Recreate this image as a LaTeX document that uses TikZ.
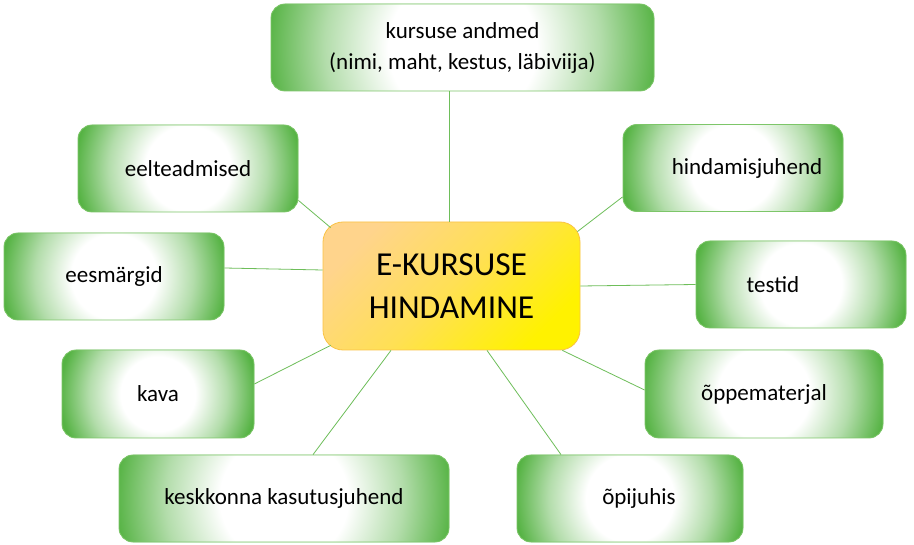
\documentclass[tikz,border=0pt]{standalone}
\usepackage{fontspec}
\setmainfont{Carlito}
\usetikzlibrary{calc}
\definecolor{gfill}{RGB}{86,179,68}
\definecolor{gborder}{RGB}{125,198,105}
\definecolor{gline}{RGB}{110,190,90}
\definecolor{clight}{RGB}{255,212,140}
\definecolor{cyellow}{RGB}{255,242,0}
\definecolor{cborder}{RGB}{250,195,70}
\colorlet{gmid}{gfill!45!white}
\pgfdeclareradialshading{gshade}{\pgfpointorigin}{color(0bp)=(white); color(5.4bp)=(white); color(10bp)=(gmid); color(14.2bp)=(gfill); color(50bp)=(gfill)}
\tikzset{
  gbox/.style={draw=gborder, line width=0.8pt, rounded corners=14pt, fill=gfill,
    path picture={\shade[shading=gshade] let \p1=(path picture bounding box.east), \p2=(path picture bounding box.west), \n1={0.9*(\x1-\x2)} in ($(path picture bounding box.center)+(-\n1,-\n1)$) rectangle ($(path picture bounding box.center)+(\n1,\n1)$);},
    minimum height=87pt, inner sep=0pt, align=center, font=\fontsize{23}{31}\selectfont},
  cbox/.style={draw=cborder, line width=0.8pt, rounded corners=20pt, top color=clight, bottom color=cyellow,
    middle color=clight!60!cyellow, shading angle=45, minimum width=257pt, minimum height=128pt,
    inner sep=0pt, align=center, font=\fontsize{33.5}{43}\selectfont},
  conn/.style={draw=gline, line width=0.8pt}
}
\begin{document}
\begin{tikzpicture}[x=1pt,y=-1pt]
\useasboundingbox[fill=white] (0,0) rectangle (914,545);
\node[cbox] (c) at (451.5,286) {E-KURSUSE\\HINDAMINE};
\node[gbox, minimum width=383pt] (kur) at (462.5,47.5) {kursuse andmed\\(nimi, maht, kestus, läbiviija)};
\node[gbox, minimum width=220pt] (eel) at (188,168.5) {eelteadmised};
\node[gbox, minimum width=220pt] (hin) at (733,168) {\hspace*{28pt}hindamisjuhend};
\node[gbox, minimum width=220pt] (ees) at (114,276.5) {eesmärgid};
\node[gbox, minimum width=210pt] (tes) at (801,284.5) {testid\hspace*{56pt}};
\node[gbox, minimum width=192pt, minimum height=88pt] (kav) at (158,394) {kava};
\node[gbox, minimum width=238pt, minimum height=88pt] (opm) at (764,394) {õppematerjal};
\node[gbox, minimum width=330pt] (kes) at (284,498.5) {keskkonna kasutusjuhend};
\node[gbox, minimum width=226pt] (opi) at (630,498.5) {\hspace*{18pt}õpijuhis};
\draw[conn] ([xshift=-2.5pt]c.north) -- ([xshift=-2.5pt]c.north |- kur.south);
\draw[conn] ($(eel.south east)+(0,-12)$) -- ($(c.north west)+(8,6)$);
\draw[conn] ($(hin.south west)+(0,-15)$) -- ($(c.north east)+(-3,10)$);
\draw[conn] ($(ees.east)+(0,-8.5)$) -- ($(c.west)+(0,-16)$);
\draw[conn] (tes.west) -- (c.east);
\draw[conn] ($(kav.east)+(0,-10)$) -- ($(c.south west)+(8,-5)$);
\draw[conn] ($(opm.west)+(0,-4)$) -- ($(c.south east)+(-18,0)$);
\draw[conn] ($(kes.north)+(29,0)$) -- ($(c.south)+(-60.5,0)$);
\draw[conn] ($(opi.north)+(-69,0)$) -- ($(c.south)+(35.5,0)$);
\end{tikzpicture}
\end{document}
